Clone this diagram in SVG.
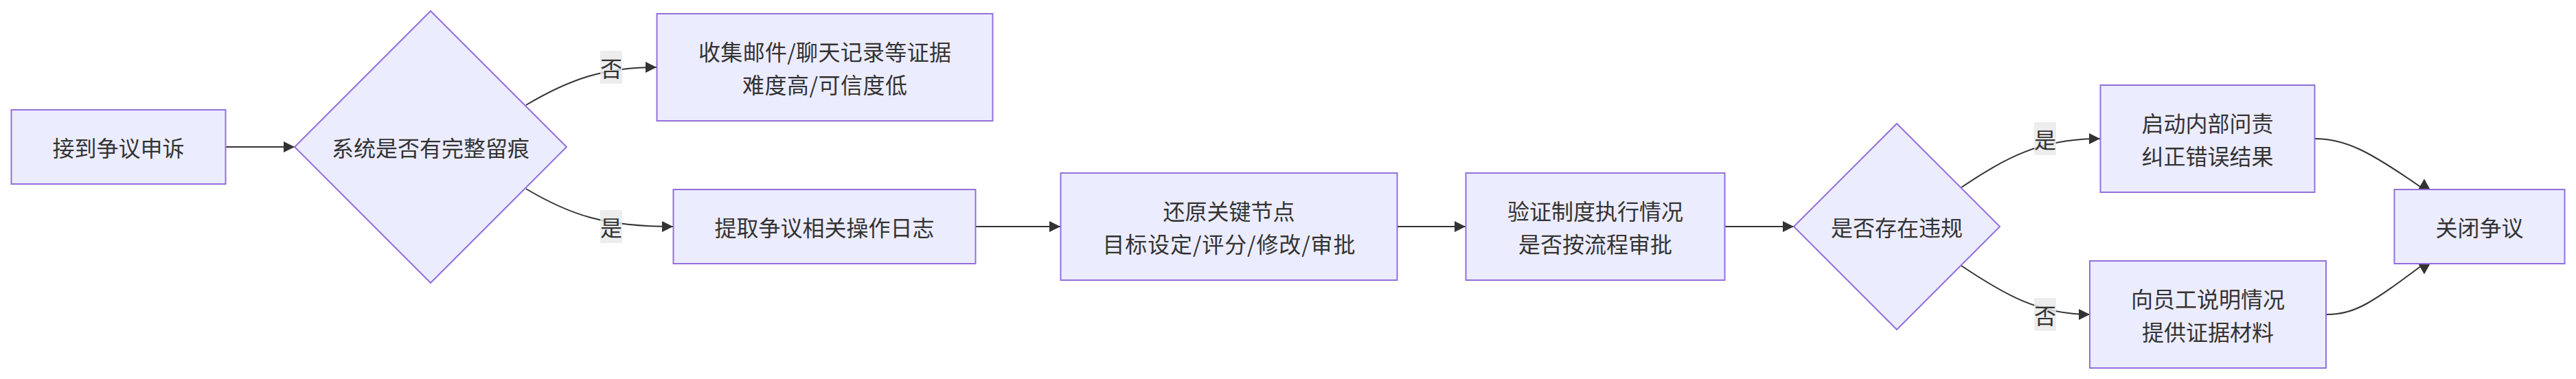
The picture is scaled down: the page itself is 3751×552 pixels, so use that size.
<svg xmlns="http://www.w3.org/2000/svg" width="3751" height="552" viewBox="0 0 3751 552">
<style>
  .node rect, .node polygon { fill: #ECECFF; stroke: #9370DB; stroke-width: 2; }
  .node text, .label text { font-family: "Noto Sans CJK SC", "Liberation Sans", sans-serif; font-size: 32px; fill: #333333; text-anchor: middle; dominant-baseline: central; }
  .edge { fill: none; stroke: #333333; stroke-width: 2; }
  .label rect { fill: #e8e8e8; fill-opacity: 0.8; }
</style>
<defs>
  <marker id="arrow" viewBox="0 0 10 10" refX="10" refY="5" markerUnits="userSpaceOnUse" markerWidth="16" markerHeight="16" orient="auto" preserveAspectRatio="none">
    <path d="M0,0 L10,5 L0,10 z" fill="#333333"/>
  </marker>
  <marker id="arrowBase" viewBox="0 0 10 10" refX="0" refY="5" markerUnits="userSpaceOnUse" markerWidth="15" markerHeight="17" orient="auto" preserveAspectRatio="none">
    <path d="M0,0 L10,5 L0,10 z" fill="#333333"/>
  </marker>
</defs>
<rect x="0" y="0" width="3751" height="552" fill="#ffffff"/>
<g id="connectors">
  <path class="edge" d="M328.5,214 L429,214" marker-end="url(#arrow)"/>
  <path class="edge" d="M766,153 C830,115 880,98 956,98" marker-end="url(#arrow)"/>
  <path class="edge" d="M766,275 C830,313 880,330 980,330" marker-end="url(#arrow)"/>
  <path class="edge" d="M1421,330 L1544,330" marker-end="url(#arrow)"/>
  <path class="edge" d="M2035,330 L2134,330" marker-end="url(#arrow)"/>
  <path class="edge" d="M2512,330 L2612,330" marker-end="url(#arrow)"/>
  <path class="edge" d="M2856,273 C2920,230 2970,202 3058,202" marker-end="url(#arrow)"/>
  <path class="edge" d="M2856,387 C2920,430 2970,458 3043,458" marker-end="url(#arrow)"/>
  <path class="edge" d="M3371,202 C3415,202 3450,220 3530,276 L3530,275.5" marker-end="url(#arrowBase)"/>
  <path class="edge" d="M3388,458 C3430,458 3455,440 3530,384 L3530,384.5" marker-end="url(#arrowBase)"/>
  <g class="label"><rect x="874" y="74" width="32" height="48"/><text x="890" y="98">否</text></g>
  <g class="label"><rect x="874" y="306" width="32" height="48"/><text x="890" y="330">是</text></g>
  <g class="label"><rect x="2962" y="178" width="32" height="48"/><text x="2978" y="202">是</text></g>
  <g class="label"><rect x="2962" y="434" width="32" height="48"/><text x="2978" y="458">否</text></g>
</g>
<g id="A" class="node"><rect x="16.5" y="160" width="312" height="108"/><text x="172.5" y="214">接到争议申诉</text></g>
<g id="B" class="node"><polygon points="627,16 825,214 627,412 429,214"/><text x="627" y="214">系统是否有完整留痕</text></g>
<g id="C" class="node"><rect x="956.5" y="20" width="489" height="156"/><text x="1201" y="74" textLength="368">收集邮件/聊天记录等证据</text><text x="1201" y="122" textLength="240">难度高/可信度低</text></g>
<g id="D" class="node"><rect x="980.5" y="276" width="440" height="108"/><text x="1200.5" y="330">提取争议相关操作日志</text></g>
<g id="E" class="node"><rect x="1544.5" y="252" width="490" height="156"/><text x="1789.5" y="306">还原关键节点</text><text x="1789.5" y="354" textLength="368">目标设定/评分/修改/审批</text></g>
<g id="F" class="node"><rect x="2134.5" y="252" width="377" height="156"/><text x="2323" y="306">验证制度执行情况</text><text x="2323" y="354">是否按流程审批</text></g>
<g id="G" class="node"><polygon points="2762,180 2912,330 2762,480 2612,330"/><text x="2762" y="330">是否存在违规</text></g>
<g id="H" class="node"><rect x="3058.5" y="124" width="312" height="156"/><text x="3214.5" y="178">启动内部问责</text><text x="3214.5" y="226">纠正错误结果</text></g>
<g id="I" class="node"><rect x="3043" y="380" width="344" height="156"/><text x="3215" y="434">向员工说明情况</text><text x="3215" y="482">提供证据材料</text></g>
<g id="J" class="node"><rect x="3486.5" y="276" width="248" height="108"/><text x="3610.5" y="330">关闭争议</text></g>
</svg>
